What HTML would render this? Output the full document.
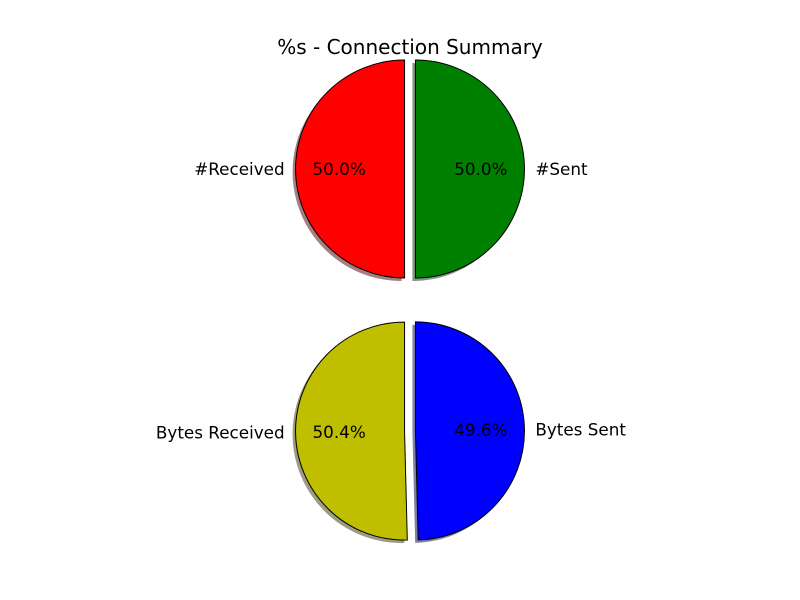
<!DOCTYPE html>
<html><head><meta charset="utf-8"><style>
body{margin:0;background:#fff;}
svg{display:block;font-family:"DejaVu Sans","Liberation Sans",sans-serif;}
</style></head><body>
<svg id="chart" width="800" height="600">
<rect width="800" height="600" fill="#fff"/>
<text x="410" y="54" text-anchor="middle" font-size="20" fill="#000">%s - Connection Summary</text>
</svg>
<script>
const countLabels = ["#Received", "#Sent"];
const countValues = [50, 50];
const byteLabels = ["Bytes Received", "Bytes Sent"];
const byteValues = [50.4, 49.6];
const countColors = ["#ff0000", "#008000"];
const byteColors = ["#bfbf00", "#0000ff"];

const svg = document.getElementById('chart');
const NS = 'http://www.w3.org/2000/svg';
const R = 109;
function mk(tag, attrs){const e=document.createElementNS(NS,tag);for(const k in attrs)e.setAttribute(k,attrs[k]);svg.appendChild(e);return e;}
function pt(cx,cy,r,deg){const a=deg*Math.PI/180;return [cx+r*Math.cos(a), cy-r*Math.sin(a)];}
function wedgePath(cx,cy,a0,a1){
  const p0=pt(cx,cy,R,a0), p1=pt(cx,cy,R,a1);
  const large=(a1-a0)>180?1:0;
  return `M${cx},${cy} L${p0[0]},${p0[1]} A${R},${R} 0 ${large} 0 ${p1[0]},${p1[1]} Z`;
}
function shade(hex){
  const n=parseInt(hex.slice(1),16);const c=[(n>>16)&255,(n>>8)&255,n&255];
  return 'rgb('+c.map(v=>Math.round(v*0.3*0.5+255*0.5)).join(',')+')';
}
function drawPie(cx,cy,labels,values,colors,prefix){
  const total=values.reduce((a,b)=>a+b,0);
  let start=90;
  const wedges=[];
  values.forEach((v,i)=>{
    const span=v/total*360;const mid=start+span/2;
    const off=pt(0,0,0.05*R,mid);
    wedges.push({a0:start,a1:start+span,mid,ox:cx+off[0],oy:cy+off[1],i,v});
    start+=span;
  });
  wedges.forEach(w=>{
    const s=mk('path',{d:wedgePath(w.ox-3,w.oy+3,w.a0,w.a1),fill:shade(colors[w.i])});
    
    
  });
  wedges.forEach(w=>{
    const p=mk('path',{d:wedgePath(w.ox,w.oy,w.a0,w.a1),fill:colors[w.i],stroke:'#000','stroke-width':1});
    
    
    const lp=pt(w.ox,w.oy,1.1*R,w.mid);
    const cosv=Math.cos(w.mid*Math.PI/180);
    const t=mk('text',{x:lp[0],y:lp[1]+6,'font-size':16.8,'text-anchor':cosv<0?'end':'start',fill:'#000'});
    t.textContent=labels[w.i];
    
    
    const pp=pt(w.ox,w.oy,0.6*R,w.mid);
    const q=mk('text',{x:pp[0],y:pp[1]+6,'font-size':16.8,'text-anchor':'middle',fill:'#000'});
    q.textContent=(w.v/total*100).toFixed(1)+'%';
    
    
  });
}
drawPie(410,169,countLabels,countValues,countColors,'count-pie');
drawPie(410,431,byteLabels,byteValues,byteColors,'bytes-pie');
</script>
</body></html>
